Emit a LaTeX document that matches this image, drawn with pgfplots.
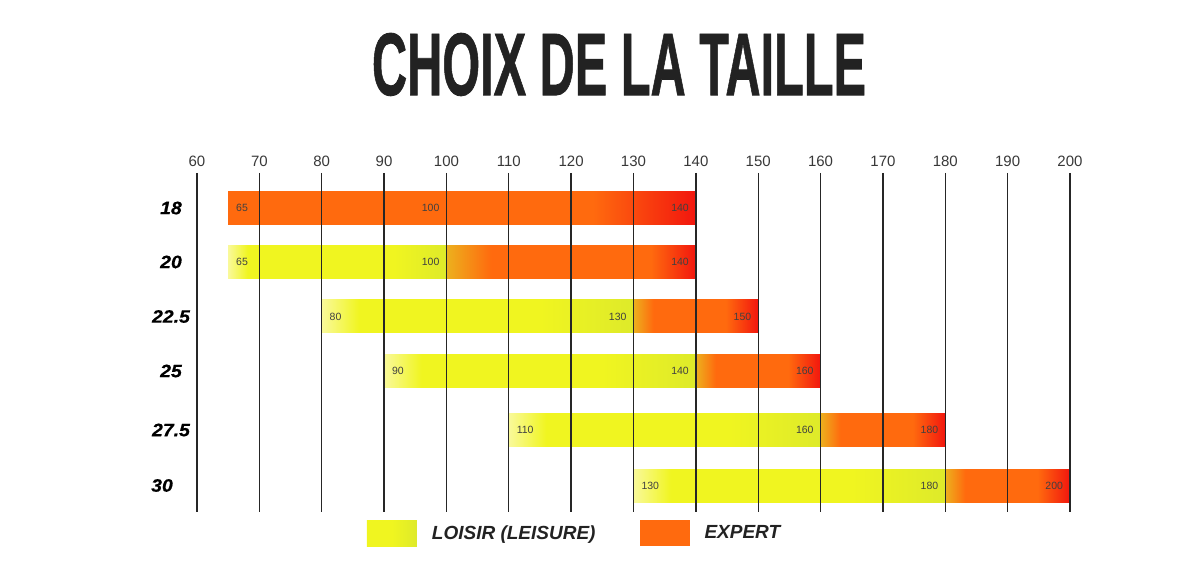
\documentclass[border=0pt]{standalone}
\usepackage{fontspec}
\setmainfont{Liberation Sans}
\usepackage{pgfplots}
\pgfplotsset{compat=1.18}
\newfontfamily\titlefont[FakeBold=1]{Liberation Sans}
\newfontfamily\ylabfont[FakeStretch=1.08,FakeBold=0.6]{Liberation Sans}

\definecolor{yel}{HTML}{F0F520}
\definecolor{ypale}{HTML}{F9F99A}
\definecolor{ygreen}{HTML}{DEEA2A}
\definecolor{orng}{HTML}{FF6A0E}
\definecolor{redend}{HTML}{F2160E}
\colorlet{trans}{ygreen!55!orng}
\definecolor{txt}{HTML}{222222}

% yellow bar, ~50 units wide
\pgfdeclarehorizontalshading{yellowA}{100bp}{color(0bp)=(ypale); color(25bp)=(ypale); color(31bp)=(yel); color(60bp)=(yel); color(75bp)=(ygreen); color(100bp)=(ygreen)}
% yellow bar, 35 units wide
\pgfdeclarehorizontalshading{yellowB}{100bp}{color(0bp)=(ypale); color(25bp)=(ypale); color(29.5bp)=(yel); color(63bp)=(yel); color(75bp)=(ygreen); color(100bp)=(ygreen)}
% orange bar after yellow, 20 units wide
\pgfdeclarehorizontalshading{orangeA}{100bp}{color(0bp)=(trans); color(25bp)=(trans); color(33bp)=(orng); color(62bp)=(orng); color(75bp)=(redend); color(100bp)=(redend)}
% orange bar after yellow, 40 units wide
\pgfdeclarehorizontalshading{orangeB}{100bp}{color(0bp)=(trans); color(25bp)=(trans); color(34bp)=(orng); color(66bp)=(orng); color(75bp)=(redend); color(100bp)=(redend)}
% orange only bar
\pgfdeclarehorizontalshading{orangeC}{100bp}{color(0bp)=(orng); color(25bp)=(orng); color(64bp)=(orng); color(75bp)=(redend); color(100bp)=(redend)}
% legend swatch
\pgfdeclarehorizontalshading{legY}{100bp}{color(0bp)=(yel); color(25bp)=(yel); color(50bp)=(yel); color(75bp)=(ygreen); color(100bp)=(ygreen)}

\pgfplotsset{/pgf/number format/assume math mode=true}

\begin{document}
\begin{tikzpicture}
\useasboundingbox (-197pt,-73pt) rectangle (983pt,512pt);
\begin{axis}[
  at={(0pt,0pt)}, anchor=south west,
  scale only axis, width=873pt, height=339pt,
  xmin=60, xmax=200, ymin=173, ymax=512, y dir=reverse,
  xtick={60,70,...,200}, xticklabel pos=upper,
  ytick={208,262,316.5,371,430,485.5},
  yticklabels={18,20,22.5,25,27.5,{30\hspace*{18pt}}},
  axis line style={draw=none},
  major tick length=0pt,
  tick style={draw=none},
  xmajorgrids, grid style={line width=1.3pt, color=black!85},
  axis on top,
  xticklabel style={font=\fontsize{15}{15}\selectfont, text=txt!90, yshift=2.5pt},
  yticklabel style={anchor=center, xshift=-26pt, font=\ylabfont\bfseries\itshape\fontsize{18}{18}\selectfont, text=black},
  legend columns=2,
  legend style={at={(axis description cs:0.1944,-0.062)}, anchor=west, draw=none, fill=none, inner sep=0pt,
    font=\bfseries\itshape\fontsize{19}{19}\selectfont, text=txt,
    nodes={inner sep=0pt},
    /tikz/every odd column/.append style={column sep=15pt},
    /tikz/every even column/.append style={column sep=44pt}},
]
% row 18: expert only 65-140
\addplot[draw=none, shading=orangeC, forget plot] coordinates {(65,191.5) (140,191.5) (140,224.5) (65,224.5)} -- cycle;
% row 20: loisir 65-100, expert 100-140
\addplot[draw=none, shading=yellowB, forget plot] coordinates {(65,245.5) (100,245.5) (100,278.5) (65,278.5)} -- cycle;
\addplot[draw=none, shading=orangeB, forget plot] coordinates {(100,245.5) (140,245.5) (140,278.5) (100,278.5)} -- cycle;
% row 22.5: loisir 80-130, expert 130-150
\addplot[draw=none, shading=yellowA, forget plot] coordinates {(80,300) (130,300) (130,333) (80,333)} -- cycle;
\addplot[draw=none, shading=orangeA, forget plot] coordinates {(130,300) (150,300) (150,333) (130,333)} -- cycle;
% row 25: loisir 90-140, expert 140-160
\addplot[draw=none, shading=yellowA, forget plot] coordinates {(90,354.5) (140,354.5) (140,387.5) (90,387.5)} -- cycle;
\addplot[draw=none, shading=orangeA, forget plot] coordinates {(140,354.5) (160,354.5) (160,387.5) (140,387.5)} -- cycle;
% row 27.5: loisir 110-160, expert 160-180
\addplot[draw=none, shading=yellowA, forget plot] coordinates {(110,413.5) (160,413.5) (160,446.5) (110,446.5)} -- cycle;
\addplot[draw=none, shading=orangeA, forget plot] coordinates {(160,413.5) (180,413.5) (180,446.5) (160,446.5)} -- cycle;
% row 30: loisir 130-180, expert 180-200
\addplot[draw=none, shading=yellowA, forget plot] coordinates {(130,469) (180,469) (180,502) (130,502)} -- cycle;
\addplot[draw=none, shading=orangeA, forget plot] coordinates {(180,469) (200,469) (200,502) (180,502)} -- cycle;

% value labels
\addplot[draw=none, mark=none, forget plot, nodes near coords, point meta=x,
  nodes near coords style={anchor=west, xshift=4.5pt, font=\fontsize{10.5}{10.5}\selectfont, text=black!75}]
  coordinates {(65,208) (65,262) (80,316.5) (90,371) (110,430) (130,485.5)};
\addplot[draw=none, mark=none, forget plot, nodes near coords, point meta=x,
  nodes near coords style={anchor=east, xshift=-3.5pt, font=\fontsize{10.5}{10.5}\selectfont, text=black!75}]
  coordinates {(100,208) (140,208) (100,262) (140,262) (130,316.5) (150,316.5) (140,371) (160,371) (160,430) (180,430) (180,485.5) (200,485.5)};

\addlegendimage{legend image code/.code={\shade[shading=legY, draw=none] (0pt,-13pt) rectangle (50pt,13pt);}}
\addlegendentry{LOISIR (LEISURE)}
\addlegendimage{legend image code/.code={\fill[orng, draw=none] (0pt,-13pt) rectangle (50pt,13pt);}}
\addlegendentry{EXPERT}
\end{axis}
\node[anchor=center, text=txt, inner sep=0pt] at (422pt,447.5pt) {\resizebox{494pt}{62pt}{\titlefont\bfseries CHOIX DE LA TAILLE}};
\end{tikzpicture}
\end{document}
